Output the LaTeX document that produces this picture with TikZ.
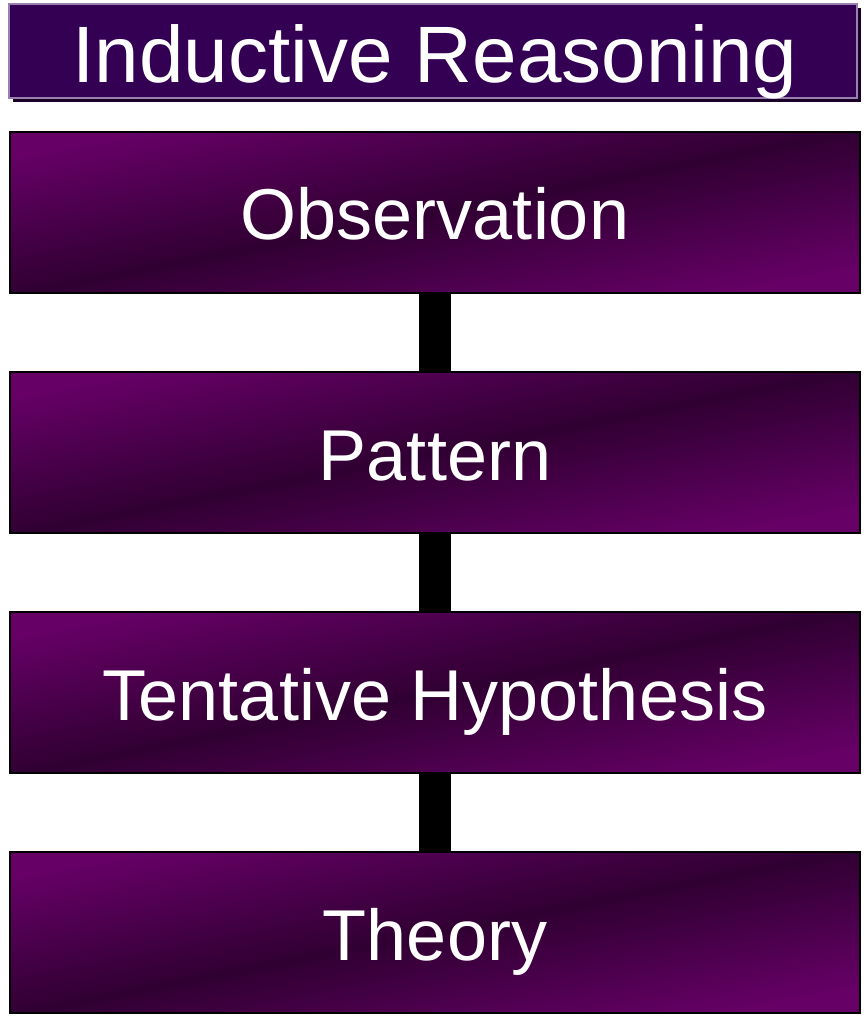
\documentclass[tikz,border=0pt]{standalone}
\usepackage{fontspec}
\setmainfont{Liberation Sans}
\usetikzlibrary{shadows}
\definecolor{titlefill}{RGB}{51,0,84}
\definecolor{titleedge}{RGB}{152,128,176}
\definecolor{titleshadow}{RGB}{26,0,40}
\definecolor{boxlight}{RGB}{102,0,102}
\definecolor{boxdark}{RGB}{48,0,50}
\tikzset{
  x=1pt, y=-1pt,
  titlebox/.style={draw=titleedge, line width=2pt, fill=titlefill,
    minimum width=848pt, minimum height=94pt, inner sep=0pt,
    drop shadow={shadow xshift=4pt, shadow yshift=-4pt, fill=titleshadow, opacity=1}},
  stagebox/.style={draw=black, line width=2.5pt,
    top color=boxlight, bottom color=boxlight, middle color=boxdark, shading angle=11,
    minimum width=850pt, minimum height=161pt, inner sep=0pt},
  label/.style={text=white, inner sep=0pt, anchor=base},
  bar/.style={draw=black, line width=32pt}
}
\begin{document}
\begin{tikzpicture}
\useasboundingbox (0,0) rectangle (866,1016);
% title
\node[titlebox] (title) at (433,51) {};
\node[label, font=\fontsize{80}{90}\selectfont] (titletext) at (435,83) {Inductive Reasoning};
% stages
\node[stagebox] (obs) at (435,212.5) {};
\node[stagebox] (pat) at (435,452.5) {};
\node[stagebox] (hyp) at (435,692.5) {};
\node[stagebox] (the) at (435,932.5) {};
% connectors
\draw[bar] (obs.south) -- (pat.north);
\draw[bar] (pat.south) -- (hyp.north);
\draw[bar] (hyp.south) -- (the.north);
% labels
\node[label, font=\fontsize{72}{84}\selectfont] (obst) at (435,240) {Observation};
\node[label, font=\fontsize{72}{84}\selectfont] (patt) at (435,480) {Pattern};
\node[label, font=\fontsize{72}{84}\selectfont] (hypt) at (435,720) {Tentative Hypothesis};
\node[label, font=\fontsize{72}{84}\selectfont] (thet) at (435,960) {Theory};
\end{tikzpicture}
\end{document}
